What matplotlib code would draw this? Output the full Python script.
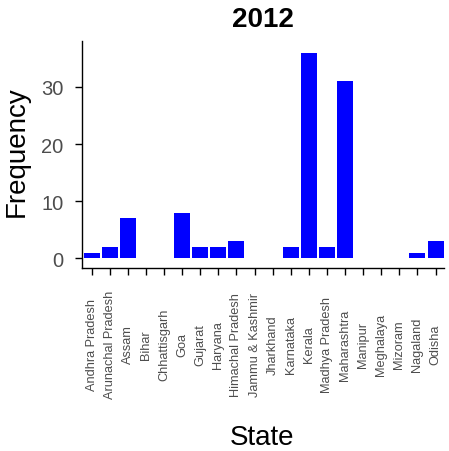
import matplotlib
matplotlib.use("Agg")
from matplotlib import pyplot as plt

# DATA
states = ["Andhra Pradesh", "Arunachal Pradesh", "Assam", "Bihar", "Chhattisgarh",
          "Goa", "Gujarat", "Haryana", "Himachal Pradesh", "Jammu & Kashmir",
          "Jharkhand", "Karnataka", "Kerala", "Madhya Pradesh", "Maharashtra",
          "Manipur", "Meghalaya", "Mizoram", "Nagaland", "Odisha"]
frequency = [1, 2, 7, 0, 0, 8, 2, 2, 3, 0, 0, 2, 36, 2, 31, 0, 0, 0, 1, 3]
y_ticks = [0, 10, 20, 30]

plt.rcParams['font.family'] = ['Liberation Sans', 'DejaVu Sans']

W, H = 449, 452
fig = plt.figure(figsize=(W / 100, H / 100), dpi=100)

# axes box measured in pixels from the reference
ax_left, ax_right, ax_top, ax_bottom = 81.7, 443.7, 41.7, 269.0
ax = fig.add_axes([ax_left / W, 1 - ax_bottom / H,
                   (ax_right - ax_left) / W, (ax_bottom - ax_top) / H])

positions = list(range(1, len(states) + 1))
ax.bar(positions, frequency, width=0.88, color="#0000FF", zorder=2)

ax.set_xlim(0.45, 20.45)
ax.set_ylim(-1.7, 38.1)
ax.set_yticks(y_ticks)
ax.set_xticks(positions)
ax.set_xticklabels(states, rotation=90, va='center', ha='center',
                   fontsize=9.2, color='#4D4D4D')

for side in ['top', 'right']:
    ax.spines[side].set_visible(False)
for side in ['left', 'bottom']:
    ax.spines[side].set_linewidth(1.0)
    ax.spines[side].set_color('black')

ax.tick_params(axis='y', length=5, width=1.0, pad=8, labelsize=14.5, labelcolor='#4D4D4D')
ax.tick_params(axis='x', length=5, width=1.0, pad=49.7)

# titles
fig.text((ax_left + ax_right) / 2 / W, 1 - 26.7 / H, "2012", ha='center', va='baseline',
         fontsize=20, fontweight='bold')
fig.text(17 / W, 1 - 151.7 / H, "Frequency", rotation=90, ha='center', va='center', fontsize=20)
fig.text(262 / W, 1 - 445 / H, "State", ha='center', va='baseline', fontsize=20)

plt.savefig("out.png", dpi=100)
